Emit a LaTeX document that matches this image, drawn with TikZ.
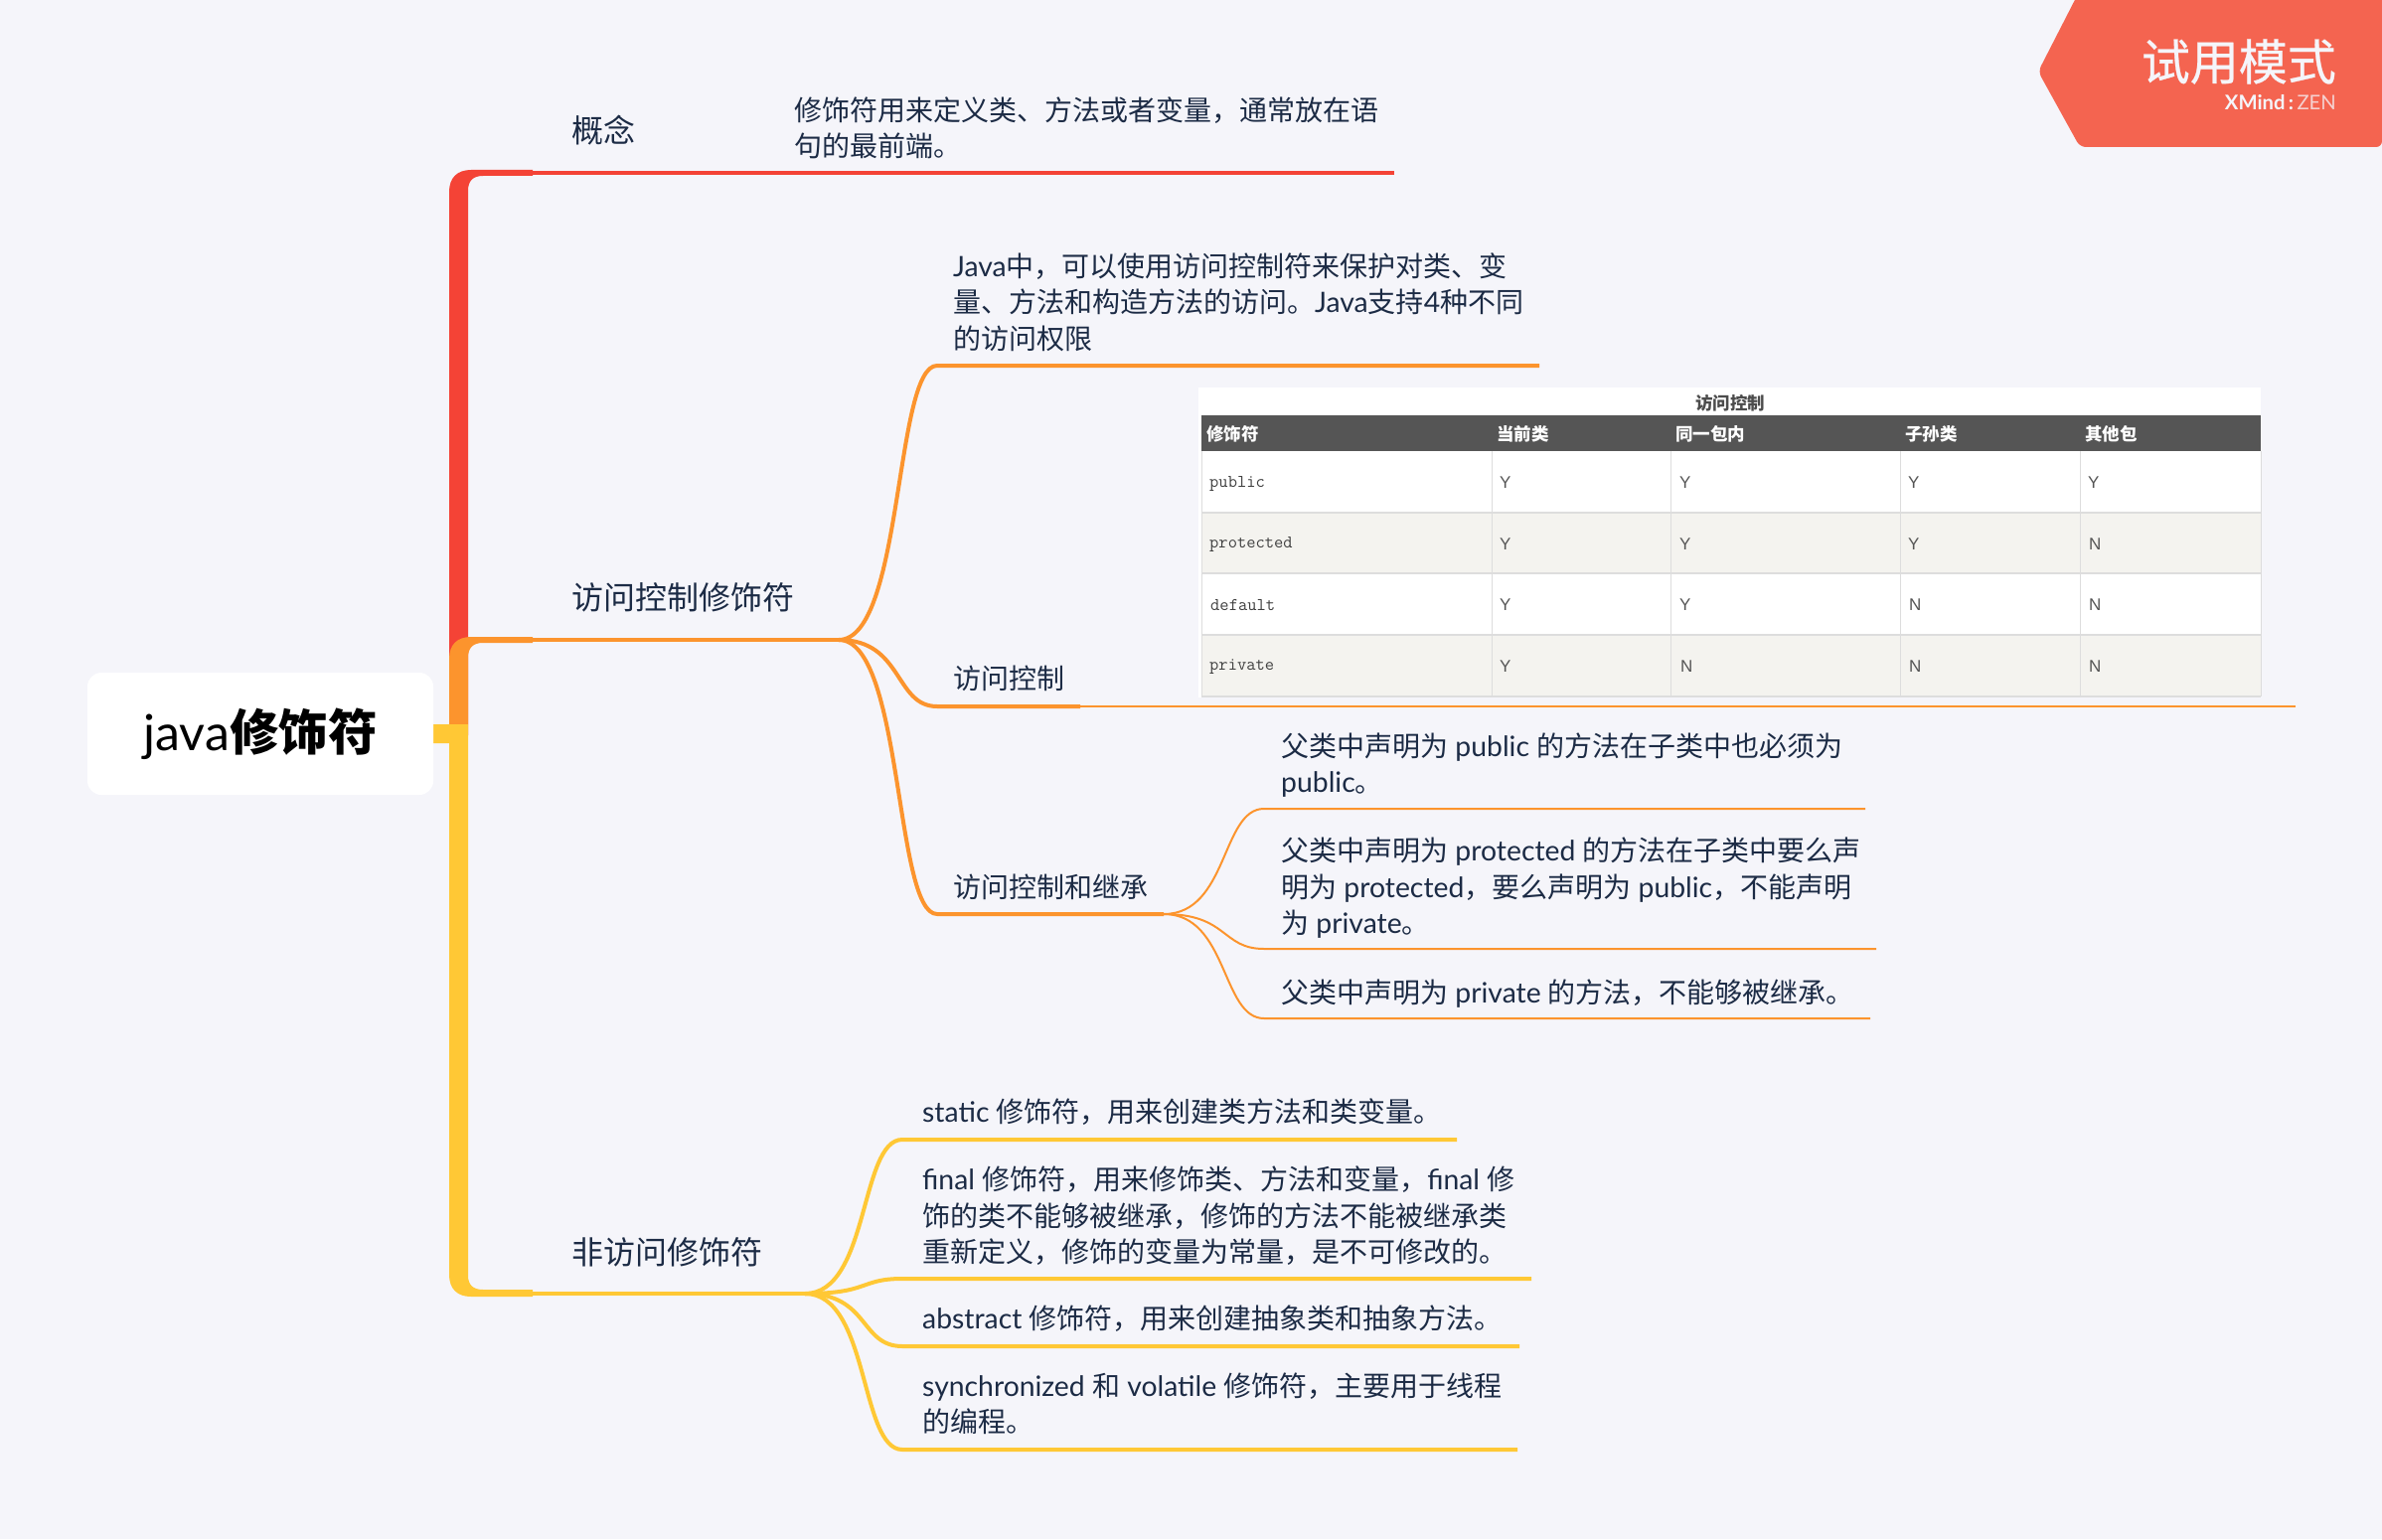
\documentclass[tikz,border=0pt]{standalone}
\usepackage{fontspec}
\usetikzlibrary{calc}
\setmainfont{Noto Sans CJK SC}
\newfontfamily\lat[Scale=1.012]{Lato}
\newfontfamily\helv{Liberation Sans}
\newfontfamily\cjkmed[FakeBold=0.6]{Noto Sans CJK SC}
\newcommand\la[1]{{\lat #1}}
\definecolor{bgc}{HTML}{F5F5FA}
\definecolor{ink}{HTML}{1C2B45}
\definecolor{cred}{HTML}{F44336}
\definecolor{corange}{HTML}{FC942D}
\definecolor{cyellow}{HTML}{FFC835}
\definecolor{badge}{HTML}{F46450}
\definecolor{rowalt}{HTML}{F4F3EF}
\definecolor{hdr}{HTML}{555555}
\definecolor{gridc}{HTML}{DDDDDD}
\newcommand\branch[2]{($(#1)+(65,0)$) and ($(#2)+(-43,0)$) .. (#2)}
\tikzset{
  x=1pt,y=-1pt,
  topic/.style={anchor=west,inner sep=0pt,align=left,text=ink,font=\fontsize{28}{36.5}\selectfont},
  main/.style={anchor=west,inner sep=0pt,text=ink,font=\fontsize{32}{38}\selectfont},
  rootbox/.style={fill=white,rounded corners=14pt,inner sep=0pt,minimum width=348pt,minimum height=123pt,text=black,font=\fontsize{49.5}{54}\selectfont},
  cell/.style={anchor=west,inner sep=0pt,text=hdr,font=\fontsize{17}{20}\selectfont\helv},
  codecell/.style={anchor=west,inner sep=0pt,text=black!75,font=\fontsize{18}{20}\selectfont\ttfamily},
  headcell/.style={anchor=west,inner sep=0pt,text=white,font=\fontsize{17.5}{20}\selectfont\bfseries},
  lv2/.style={line width=4pt},
  lv3/.style={line width=2pt}
}
\begin{document}
\begin{tikzpicture}
\useasboundingbox[fill=bgc] (0,0) rectangle (2397,1549);

% ---- badge
\fill[badge,rounded corners=6pt] (2093,-10) -- (2051,72) -- (2093,148) -- (2397,148) -- (2397,-10) -- cycle;
\node[anchor=east,inner sep=0pt,text=bgc,font=\fontsize{49}{52}\selectfont\cjkmed] (badgetitle) at (2351,62) {试用模式};
\node[anchor=east,inner sep=0pt,text=bgc,font=\fontsize{20}{22}\selectfont] (badgesub) at (2351,103) {\la{\bfseries XMind\,:\,}\la{\color{bgc!75!badge}ZEN}};

% ---- named points
\coordinate (redEnd) at (1403,174);
\coordinate (redThin) at (536,174);
\coordinate (orgFork) at (536,644);
\coordinate (orgSplit) at (844,644);
\coordinate (yelThin) at (536,1302);
\coordinate (yelSplit) at (810,1302);
\coordinate (a1) at (943,368);   \coordinate (a1e) at (1549,368);
\coordinate (a2) at (943,711);   \coordinate (a2m) at (1087,711); \coordinate (a2e) at (2310,711);
\coordinate (a3) at (943,920);   \coordinate (a3m) at (1171,920);
\coordinate (s1) at (1272,814);  \coordinate (s1e) at (1877,814);
\coordinate (s2) at (1272,955);  \coordinate (s2e) at (1888,955);
\coordinate (s3) at (1272,1025); \coordinate (s3e) at (1882,1025);
\coordinate (y1) at (908,1147);  \coordinate (y1e) at (1466,1147);
\coordinate (y2) at (908,1287);  \coordinate (y2e) at (1541,1287);
\coordinate (y3) at (908,1355);  \coordinate (y3e) at (1529,1355);
\coordinate (y4) at (908,1459);  \coordinate (y4e) at (1527,1459);

% ---- spine, red
\fill[cred] (452,740) -- (452,193) .. controls (452,179) and (460,171) .. (474,171) -- (536,171) -- (536,177) -- (486,177)
  .. controls (476,177) and (471,182) .. (471,192) -- (471,740) -- cycle;
\draw[cred,line width=4pt] (redThin) -- (redEnd);
% ---- spine, orange
\fill[corange] (452,729) -- (452,663) .. controls (452,649) and (460,641) .. (474,641) -- (536,641) -- (536,647) -- (486,647)
  .. controls (476,647) and (471,652) .. (471,662) -- (471,729) -- cycle;
\draw[corange,line width=4pt] (orgFork) -- (orgSplit);
% ---- spine, yellow
\fill[cyellow] (436,729) -- (471,729) -- (471,1284) .. controls (471,1293) and (476,1298) .. (486,1298) -- (536,1298) -- (536,1305)
  -- (474,1305) .. controls (460,1305) and (452,1297) .. (452,1283) -- (452,748) -- (436,748) -- cycle;
\draw[cyellow,line width=4pt] (yelThin) -- (yelSplit);

% ---- orange branches
\draw[corange,lv2] (orgSplit) .. controls \branch{orgSplit}{a1} -- (a1e);
\draw[corange,lv2] (orgSplit) .. controls \branch{orgSplit}{a2} -- (a2m);
\draw[corange,lv3] (a2m) -- (a2e);
\draw[corange,lv2] (orgSplit) .. controls \branch{orgSplit}{a3} -- (a3m);
\draw[corange,lv3] (a3m) .. controls \branch{a3m}{s1} -- (s1e);
\draw[corange,lv3] (a3m) .. controls \branch{a3m}{s2} -- (s2e);
\draw[corange,lv3] (a3m) .. controls \branch{a3m}{s3} -- (s3e);

% ---- yellow branches
\draw[cyellow,lv2] (yelSplit) .. controls \branch{yelSplit}{y1} -- (y1e);
\draw[cyellow,lv2] (yelSplit) .. controls \branch{yelSplit}{y2} -- (y2e);
\draw[cyellow,lv2] (yelSplit) .. controls \branch{yelSplit}{y3} -- (y3e);
\draw[cyellow,lv2] (yelSplit) .. controls \branch{yelSplit}{y4} -- (y4e);

% ---- root
\node[rootbox] (root) at (262,738.5) {\raisebox{-1.5pt}{\la{java}\bfseries 修饰符}};

% ---- topics
\node[main] (t1) at (575,131) {概念};
\node[main] (t2) at (575,601) {访问控制修饰符};
\node[main] (t3) at (575,1260) {非访问修饰符};
\node[topic] (t1a) at (799,129) {修饰符用来定义类、方法或者变量，通常放在语\\句的最前端。};
\node[topic] (t2a) at (959,304) {\la{Java}中，可以使用访问控制符来保护对类、变\\量、方法和构造方法的访问。\la{Java}支持\la{4}种不同\\的访问权限};
\node[topic] (t2b) at (959,683) {访问控制};
\node[topic] (t2c) at (959,893) {访问控制和继承};
\node[topic] (t2c1) at (1289,770) {父类中声明为\la{ public }的方法在子类中也必须为\\\la{public}。};
\node[topic] (t2c2) at (1289,894) {父类中声明为\la{ protected }的方法在子类中要么声\\明为\la{ protected}，要么声明为\la{ public}，不能声明\\为\la{ private}。};
\node[topic] (t2c3) at (1289,1000.5) {父类中声明为\la{ private }的方法，不能够被继承。};
\node[topic] (t3a) at (928,1119.5) {\la{static }修饰符，用来创建类方法和类变量。};
\node[topic] (t3b) at (928,1224) {\la{final }修饰符，用来修饰类、方法和变量，\la{final }修\\饰的类不能够被继承，修饰的方法不能被继承类\\重新定义，修饰的变量为常量，是不可修改的。};
\node[topic] (t3c) at (928,1327.5) {\la{abstract }修饰符，用来创建抽象类和抽象方法。};
\node[topic] (t3d) at (928,1413) {\la{synchronized }和\la{ volatile }修饰符，主要用于线程\\的编程。};

% ---- table picture
\fill[white] (1206,390) rectangle (2275,702);
\fill[hdr] (1209,418) rectangle (2275,454);
\fill[rowalt] (1209,516) rectangle (2275,577);
\fill[rowalt] (1209,639) rectangle (2275,701);
\foreach \yy in {516,577,639,701} \draw[gridc,line width=2pt] (1209,\yy) -- (2275,\yy);
\foreach \xx in {1209,1501,1681,1912,2093,2275} \draw[gridc,line width=1pt] (\xx,454) -- (\xx,701);
\node[inner sep=0pt,text=black!70,font=\fontsize{17.5}{20}\selectfont\bfseries] (tabletitle) at (1741,406) {访问控制};
\node[headcell] (h1) at (1214,437) {修饰符};
\node[headcell] (h2) at (1506,437) {当前类};
\node[headcell] (h3) at (1686,437) {同一包内};
\node[headcell] (h4) at (1917,437) {子孙类};
\node[headcell] (h5) at (2098,437) {其他包};
\node[codecell] (r1) at (1217,487) {public};
\node[codecell] (r2) at (1217,548) {protected};
\node[codecell] (r3) at (1218,609) {default};
\node[codecell] (r4) at (1217,671) {private};
\node[cell] (c11) at (1509,486) {Y}; \node[cell] (c12) at (1690,486) {Y}; \node[cell] (c13) at (1920,486) {Y}; \node[cell] (c14) at (2101,486) {Y};
\node[cell] (c21) at (1509,548) {Y}; \node[cell] (c22) at (1690,548) {Y}; \node[cell] (c23) at (1920,548) {Y}; \node[cell] (c24) at (2102,548) {N};
\node[cell] (c31) at (1509,609) {Y}; \node[cell] (c32) at (1690,609) {Y}; \node[cell] (c33) at (1921,609) {N}; \node[cell] (c34) at (2102,609) {N};
\node[cell] (c41) at (1509,671) {Y}; \node[cell] (c42) at (1691,671) {N}; \node[cell] (c43) at (1921,671) {N}; \node[cell] (c44) at (2102,671) {N};
\end{tikzpicture}
\end{document}
